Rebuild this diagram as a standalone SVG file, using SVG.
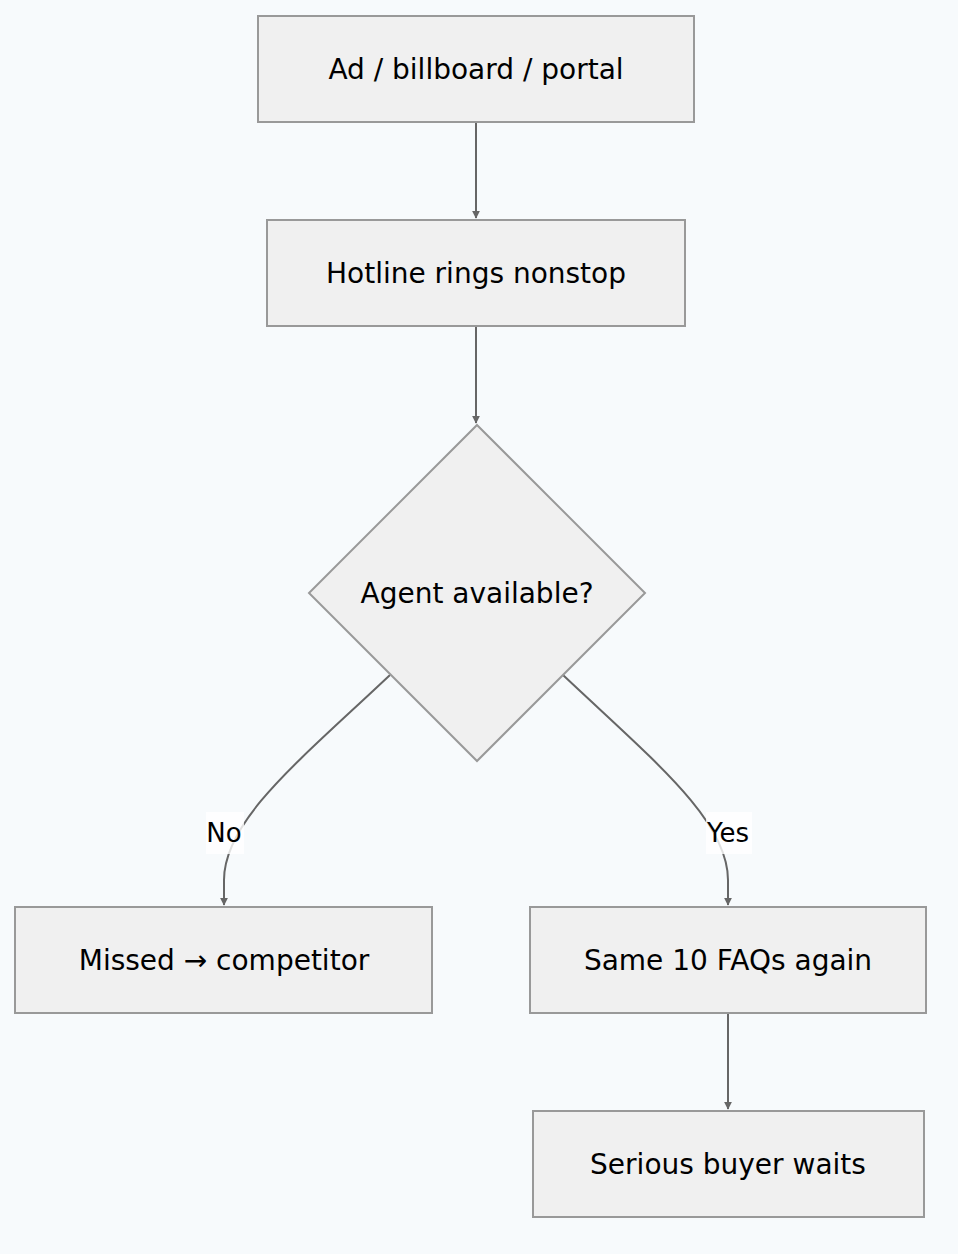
<svg xmlns="http://www.w3.org/2000/svg" width="958" height="1254" viewBox="0 0 958 1254">
<style>
.n{fill:#f0f0f0;stroke:#999;stroke-width:2}
.t{font-family:"DejaVu Sans",Verdana,sans-serif;font-size:28px;fill:#000;text-anchor:middle;dominant-baseline:central}
.e{fill:none;stroke:#666;stroke-width:2}
.lb{fill:#fff;opacity:0.8}
</style>
<defs><marker id="ar" viewBox="0 0 10 10" refX="9" refY="5" markerWidth="8" markerHeight="8" orient="auto" markerUnits="userSpaceOnUse"><path d="M0,0L10,5L0,10z" fill="#666"/></marker></defs>
<rect width="958" height="1254" fill="#f7fafc"/>
<g id="edges">
<path class="e" d="M476,122V218" marker-end="url(#ar)" style="marker-end:url(#ar)"/>
<path class="e" d="M476,326V423" style="marker-end:url(#ar)"/>
<path class="e" d="M390,675C300,760 224,820 224,880V905" style="marker-end:url(#ar)"/>
<path class="e" d="M563,675C653,760 728,820 728,880V905" style="marker-end:url(#ar)"/>
<path class="e" d="M728,1013V1109" style="marker-end:url(#ar)"/>
<rect class="lb" x="206" y="812" width="38" height="42"/>
<text class="t" x="224" y="833" style="font-size:26px">No</text>
<rect class="lb" x="706" y="812" width="46" height="42"/>
<text class="t" x="728" y="833" style="font-size:26px">Yes</text>
</g>
<g id="A"><rect class="n" x="258" y="16" width="436" height="106"/><text class="t" x="476" y="69">Ad / billboard / portal</text></g>
<g id="B"><rect class="n" x="267" y="220" width="418" height="106"/><text class="t" x="476" y="273">Hotline rings nonstop</text></g>
<g id="C"><path class="n" d="M477,425L645,593L477,761L309,593Z"/><text class="t" x="477" y="593">Agent available?</text></g>
<g id="D"><rect class="n" x="15" y="907" width="417" height="106"/><text class="t" x="224" y="960">Missed → competitor</text></g>
<g id="E"><rect class="n" x="530" y="907" width="396" height="106"/><text class="t" x="728" y="960">Same 10 FAQs again</text></g>
<g id="F"><rect class="n" x="533" y="1111" width="391" height="106"/><text class="t" x="728" y="1164">Serious buyer waits</text></g>
</svg>
